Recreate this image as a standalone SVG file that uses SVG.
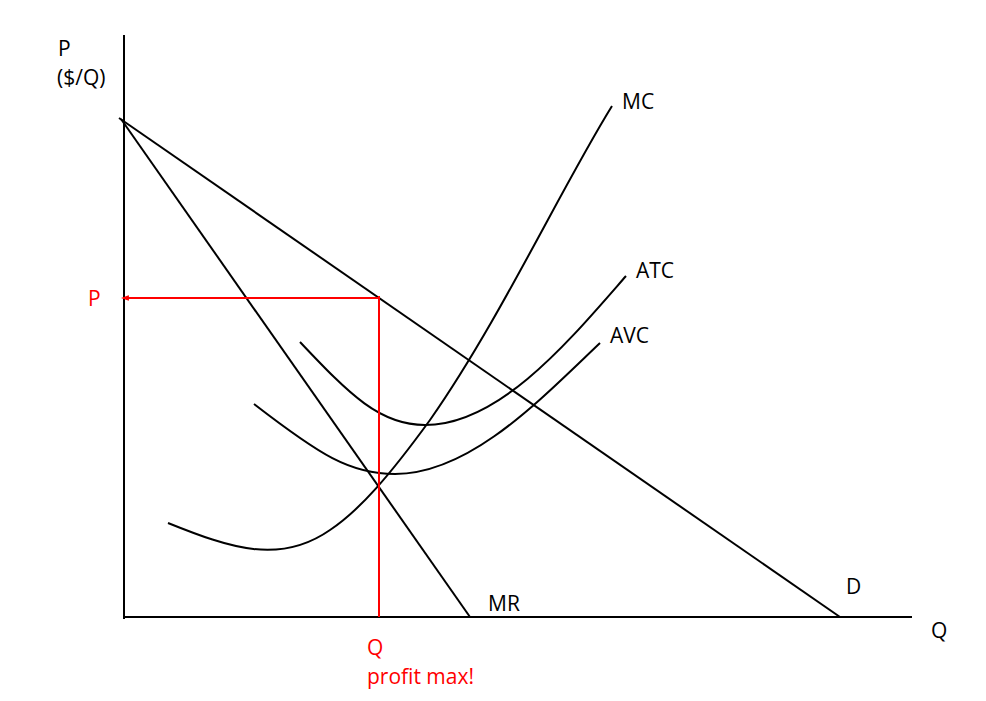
<svg xmlns="http://www.w3.org/2000/svg" width="986" height="701" viewBox="0 0 986 701">
<style>
.k{stroke:#000;stroke-width:2;fill:none}
.r{stroke:#ff0000;stroke-width:2;fill:none}
text{font-family:"Open Sans","Liberation Sans",sans-serif;font-size:21px}
.tr{fill:#ff0000}
</style>
<defs>
<marker id="ar" markerWidth="8" markerHeight="8" refX="6" refY="4" orient="auto" markerUnits="userSpaceOnUse">
<path d="M0,2 L6,4 L0,6" fill="none" stroke="#ff0000" stroke-width="1.5"/>
</marker>
</defs>
<rect width="986" height="701" fill="#fff"/>
<g id="axes">
<line class="k" x1="124" y1="35" x2="124" y2="619"/>
<line class="k" x1="124" y1="617" x2="912" y2="617"/>
<text x="58" y="56">P</text>
<text x="57" y="85">($/Q)</text>
<text x="931" y="638">Q</text>
</g>
<g id="connectors">
<line id="D" class="k" x1="119" y1="118" x2="840" y2="617"/>
<line id="MR" class="k" x1="121" y1="119" x2="470" y2="617"/>
<path id="MC" class="k" d="M168,523 C230,548 280,565 330,530 C360,510 390,475 430,420 C500,320 560,190 612,106"/>
<path id="AVC" class="k" d="M254,404 C320,455 350,474 395,474 C470,474 540,400 600,343"/>
<path id="ATC" class="k" d="M300,342 C350,395 380,425 425,425 C500,425 570,340 626,276"/>
<line class="r" x1="380" y1="298" x2="123" y2="298" marker-end="url(#ar)"/>
<line class="r" x1="379" y1="296" x2="379" y2="617"/>
</g>
<g id="labels">
<text x="622" y="109">MC</text>
<text x="636" y="278">ATC</text>
<text x="610" y="343">AVC</text>
<text x="488" y="611">MR</text>
<text x="846" y="594">D</text>
<text class="tr" x="88" y="306">P</text>
<text class="tr" x="367" y="655">Q</text>
<text class="tr" x="367" y="684">profit max!</text>
</g>
</svg>
